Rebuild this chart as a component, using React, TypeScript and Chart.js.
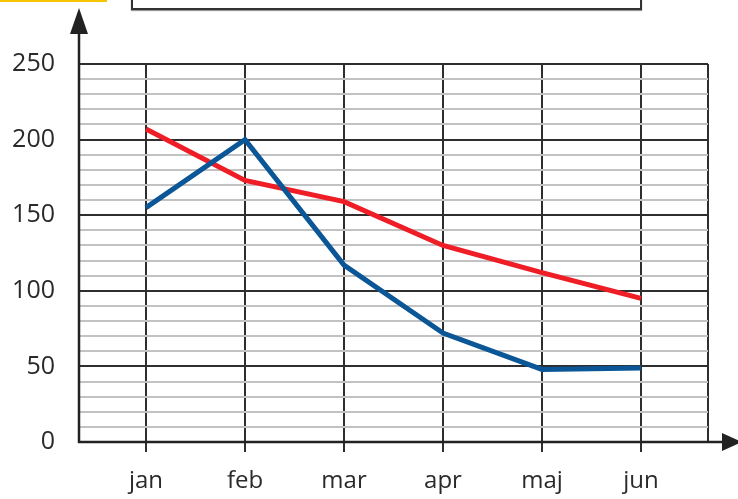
import React, { useEffect, useRef } from "react";
import { Chart, registerables } from "chart.js";

Chart.register(...registerables);

const months = ["jan", "feb", "mar", "apr", "maj", "jun"];
const redValues = [207, 173, 159, 130, 112, 95];
const blueValues = [155, 200, 117, 72, 48, 49];
const yTickLabels = [0, 50, 100, 150, 200, 250];

const X_EDGE = 0.677;
const DARK = "#2e2e2e";
const MINOR = "#c2c2c2";
const X_FONT = { family: "'Open Sans', sans-serif", size: 24 };
const Y_FONT = { family: "'Open Sans', sans-serif", size: 25 };

const arrowPlugin = {
  id: "axisArrows",
  afterDraw(chart: any) {
    const { ctx, chartArea } = chart;
    const { left, bottom } = chartArea;
    ctx.save();
    ctx.strokeStyle = "#222";
    ctx.fillStyle = "#222";
    ctx.lineWidth = 2.5;
    // y axis
    ctx.beginPath();
    ctx.moveTo(left, bottom + 1);
    ctx.lineTo(left, 30);
    ctx.stroke();
    ctx.beginPath();
    ctx.moveTo(left, 8);
    ctx.lineTo(left - 9, 34);
    ctx.lineTo(left + 9, 34);
    ctx.closePath();
    ctx.fill();
    // x axis
    ctx.beginPath();
    ctx.moveTo(left - 1, bottom);
    ctx.lineTo(728, bottom);
    ctx.stroke();
    ctx.beginPath();
    ctx.moveTo(742, bottom);
    ctx.lineTo(722, bottom - 9);
    ctx.lineTo(722, bottom + 9);
    ctx.closePath();
    ctx.fill();
    ctx.restore();
  },
};

export default function App() {
  const canvasRef = useRef<HTMLCanvasElement | null>(null);

  useEffect(() => {
    document.body.style.margin = "0";
    const canvas = canvasRef.current;
    if (!canvas) return;
    const chart = new Chart(canvas, {
      type: "line",
      data: {
        datasets: [
          {
            label: "blue",
            data: blueValues.map((v, i) => ({ x: i, y: v })),
            borderColor: "#0b5697",
            borderWidth: 5,
            pointRadius: 0,
            tension: 0,
            order: 0,
          },
          {
            label: "red",
            data: redValues.map((v, i) => ({ x: i, y: v })),
            borderColor: "#ee1d26",
            borderWidth: 5,
            pointRadius: 0,
            tension: 0,
            order: 1,
          },
        ],
      },
      options: {
        animation: false,
        responsive: true,
        maintainAspectRatio: false,
        layout: { padding: { top: 64, right: 30, left: 0, bottom: 0 } },
        plugins: { legend: { display: false }, tooltip: { enabled: false } },
        scales: {
          x: {
            type: "linear",
            min: -X_EDGE,
            max: months.length - 1 + X_EDGE,
            afterBuildTicks(scale: any) {
              scale.ticks = [
                ...months.map((_, i) => ({ value: i })),
                { value: months.length - 1 + X_EDGE },
              ];
            },
            afterFit(scale: any) {
              scale.height = 57;
            },
            border: { display: false },
            grid: {
              color: DARK,
              lineWidth: 2,
              tickLength: 10,
              tickColor: (c: any) =>
                Number.isInteger(c.tick?.value) ? DARK : "rgba(0,0,0,0)",
            },
            ticks: {
              font: X_FONT,
              color: "#2a2a2a",
              padding: 15,
              autoSkip: false,
              maxRotation: 0,
              callback: (v: any) =>
                Number.isInteger(v) && months[v] !== undefined ? months[v] : "",
            },
          },
          y: {
            min: 0,
            max: 250,
            afterFit(scale: any) {
              scale.width = 79;
            },
            border: { display: false },
            grid: {
              drawTicks: false,
              color: (c: any) => (c.tick.value % 50 === 0 ? DARK : MINOR),
              lineWidth: 2,
            },
            ticks: {
              stepSize: 10,
              autoSkip: false,
              font: Y_FONT,
              color: "#2a2a2a",
              padding: 24,
              callback: (v: any) => (yTickLabels.includes(v) ? String(v) : ""),
            },
          },
        },
      },
      plugins: [arrowPlugin],
    } as any);
    return () => chart.destroy();
  }, []);

  return (
    <div style={{ position: "fixed", left: 0, top: 0, width: 738, height: 499, background: "#fff" }}>
      <div style={{ position: "absolute", left: 0, top: 0, width: 107, height: 2, background: "#f6c500" }} />
      <div
        style={{
          position: "absolute",
          left: 131,
          top: -10,
          width: 507,
          height: 18,
          borderLeft: "2px solid #333",
          borderRight: "2px solid #333",
          borderBottom: "2px solid #333",
          boxShadow: "0 1px 1px #999",
        }}
      />
      <canvas ref={canvasRef} style={{ position: "absolute", left: 0, top: 0 }} />
    </div>
  );
}
